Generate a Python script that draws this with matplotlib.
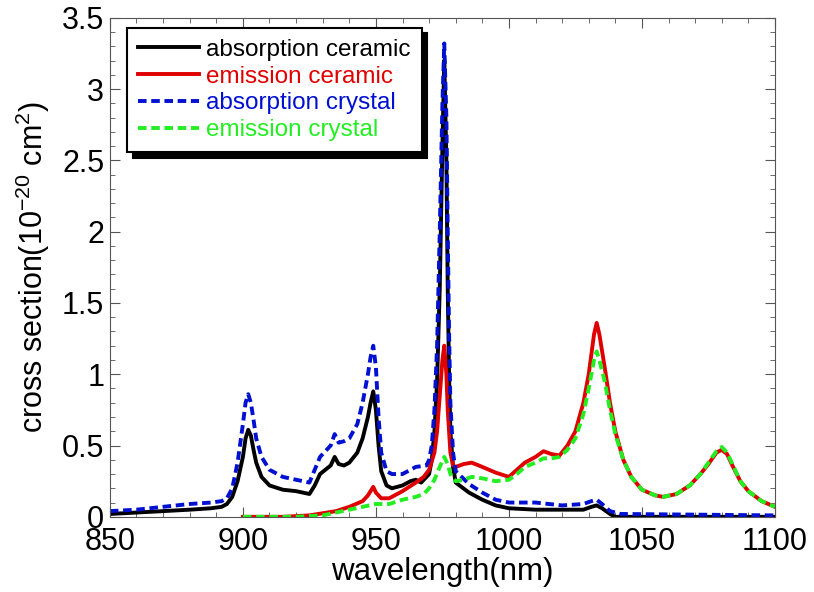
import matplotlib.pyplot as plt
from matplotlib.ticker import MultipleLocator

plt.rcParams['font.family'] = ['Liberation Sans', 'DejaVu Sans']
plt.rcParams['mathtext.fontset'] = 'custom'
plt.rcParams['mathtext.rm'] = 'Liberation Sans'

# absorption, ceramic
wl_abs_ceramic = [850, 860, 870, 880, 888, 892, 894, 896, 898, 900, 901, 902, 903, 904, 905, 907,
                  910, 915, 920, 925, 927, 929, 931, 933, 934.5, 936, 938, 940, 943, 945, 947,
                  948, 949, 950, 951, 952, 954, 956, 960, 963, 965, 967, 970, 971, 972, 973,
                  974, 975, 975.7, 976.5, 977, 977.5, 978, 979, 980, 985, 990, 995, 1000, 1010,
                  1020, 1028, 1031, 1033, 1035, 1038, 1040, 1100]
abs_ceramic = [0.02, 0.03, 0.04, 0.05, 0.06, 0.07, 0.09, 0.14, 0.25, 0.42, 0.55, 0.61, 0.57, 0.47,
               0.38, 0.28, 0.22, 0.19, 0.18, 0.16, 0.22, 0.3, 0.33, 0.36, 0.42, 0.37, 0.36, 0.38,
               0.45, 0.55, 0.7, 0.8, 0.88, 0.75, 0.5, 0.32, 0.22, 0.2, 0.22, 0.25, 0.26, 0.24,
               0.3, 0.4, 0.6, 0.95, 1.6, 2.6, 3.2, 2.5, 1.6, 1.0, 0.6, 0.35, 0.24, 0.17, 0.12,
               0.08, 0.06, 0.05, 0.05, 0.05, 0.07, 0.08, 0.06, 0.02, 0.0, 0.0]

# emission, ceramic
wl_em_ceramic = [900, 915, 925, 935, 940, 945, 947, 949, 950, 952, 955, 960, 965, 968, 970, 972,
                 973, 974, 975, 975.7, 976.5, 977, 978, 979, 980, 983, 986, 990, 995, 1000, 1003,
                 1006, 1010, 1013, 1016, 1019, 1022, 1025, 1028, 1030, 1032, 1033, 1034, 1036,
                 1038, 1040, 1043, 1046, 1050, 1055, 1058, 1063, 1068, 1072, 1075, 1078, 1080,
                 1082, 1084, 1087, 1090, 1095, 1100]
em_ceramic = [0.0, 0.0, 0.01, 0.04, 0.07, 0.11, 0.15, 0.21, 0.17, 0.13, 0.13, 0.18, 0.24, 0.28,
              0.33, 0.45, 0.6, 0.85, 1.1, 1.2, 1.0, 0.75, 0.45, 0.36, 0.35, 0.37, 0.38, 0.35,
              0.31, 0.28, 0.33, 0.38, 0.42, 0.46, 0.44, 0.43, 0.5, 0.6, 0.8, 1.0, 1.28, 1.36,
              1.28, 1.05, 0.8, 0.6, 0.4, 0.28, 0.19, 0.15, 0.14, 0.16, 0.22, 0.3, 0.37, 0.45,
              0.47, 0.44, 0.36, 0.25, 0.18, 0.11, 0.07]

# absorption, crystal
wl_abs_crystal = [850, 860, 870, 880, 888, 892, 894, 896, 898, 900, 901, 902, 903, 904, 905, 907,
                  910, 915, 920, 925, 927, 929, 931, 933, 934.5, 936, 938, 940, 943, 945, 947,
                  948, 949, 950, 951, 952, 954, 956, 960, 965, 969, 970, 971, 972, 973, 974, 975,
                  975.7, 976.5, 977, 977.5, 978, 979, 980, 985, 990, 995, 1000, 1010, 1020, 1028,
                  1031, 1033, 1035, 1038, 1042, 1100]
abs_crystal = [0.04, 0.05, 0.07, 0.09, 0.1, 0.11, 0.13, 0.2, 0.38, 0.65, 0.8, 0.86, 0.8, 0.68,
               0.55, 0.42, 0.33, 0.28, 0.26, 0.24, 0.33, 0.42, 0.46, 0.5, 0.58, 0.52, 0.53, 0.55,
               0.65, 0.8, 1.0, 1.12, 1.2, 1.05, 0.7, 0.45, 0.32, 0.3, 0.3, 0.35, 0.36, 0.4, 0.5,
               0.75, 1.2, 2.0, 2.9, 3.32, 2.8, 2.0, 1.3, 0.8, 0.45, 0.32, 0.23, 0.17, 0.12, 0.1,
               0.1, 0.08, 0.09, 0.11, 0.12, 0.09, 0.04, 0.02, 0.01]

# emission, crystal
wl_em_crystal = [900, 920, 930, 940, 945, 950, 955, 960, 965, 968, 970, 972, 974, 975.7, 977, 978,
                 979, 980, 983, 986, 990, 995, 1000, 1003, 1006, 1010, 1013, 1016, 1019, 1022,
                 1025, 1028, 1030, 1032, 1033, 1034, 1036, 1038, 1040, 1043, 1046, 1050, 1055,
                 1058, 1063, 1068, 1072, 1075, 1078, 1080, 1082, 1084, 1087, 1090, 1095, 1100]
em_crystal = [0.0, 0.0, 0.01, 0.05, 0.07, 0.09, 0.09, 0.12, 0.14, 0.16, 0.2, 0.26, 0.35, 0.42,
              0.37, 0.3, 0.27, 0.25, 0.26, 0.28, 0.27, 0.25, 0.26, 0.3, 0.35, 0.38, 0.41, 0.41,
              0.42, 0.47, 0.55, 0.72, 0.9, 1.1, 1.16, 1.1, 0.95, 0.75, 0.58, 0.4, 0.28, 0.19,
              0.15, 0.14, 0.16, 0.22, 0.3, 0.38, 0.46, 0.49, 0.45, 0.37, 0.25, 0.18, 0.11, 0.07]


def main():
    fig = plt.figure(figsize=(8.14, 5.92), dpi=100)
    ax = fig.add_axes([0.135, 0.127, 0.817, 0.843])

    ax.plot(wl_abs_ceramic, abs_ceramic, color='black', lw=2.8, label='absorption ceramic')
    ax.plot(wl_em_ceramic, em_ceramic, color='#e00000', lw=2.8, label='emission ceramic')
    ax.plot(wl_abs_crystal, abs_crystal, color='#0010d0', lw=2.8, ls=(0, (2.2, 1.2)),
            label='absorption crystal')
    ax.plot(wl_em_crystal, em_crystal, color='#22ee22', lw=2.8, ls=(0, (2.2, 1.2)),
            label='emission crystal')

    ax.set_xlim(850, 1100)
    ax.set_ylim(0, 3.5)
    ax.xaxis.set_major_locator(MultipleLocator(50))
    ax.xaxis.set_minor_locator(MultipleLocator(10))
    ax.yaxis.set_major_locator(MultipleLocator(0.5))
    ax.yaxis.set_minor_locator(MultipleLocator(0.1))
    ax.yaxis.set_major_formatter(plt.FuncFormatter(lambda v, p: f'{v:g}'))
    ax.tick_params(which='both', direction='in', top=True, right=True, color='#555555',
                   labelsize=22)
    ax.tick_params(axis='x', pad=7)
    ax.tick_params(axis='y', pad=4)
    ax.tick_params(which='major', length=7)
    ax.tick_params(which='minor', length=3.5)
    for s in ax.spines.values():
        s.set_color('#555555')

    ax.set_xlabel('wavelength(nm)', fontsize=22.5, labelpad=0)
    ax.set_ylabel('cross section(10$^{-20}$ cm$^{2}$)', fontsize=22, labelpad=7)

    leg = ax.legend(loc='upper left', fontsize=17.5, fancybox=False, handlelength=2.5,
                    handletextpad=0.3, labelspacing=0.2, borderpad=0.45, borderaxespad=0,
                    bbox_to_anchor=(0.026, 0.98),
                    shadow={'color': 'black', 'alpha': 1, 'ox': 4, 'oy': -4})
    leg.get_frame().set_edgecolor('black')
    leg.get_frame().set_linewidth(1.5)
    for txt, line in zip(leg.get_texts(), leg.get_lines()):
        txt.set_color(line.get_color())

    fig.savefig('out.png', dpi=100)


if __name__ == "__main__":
    main()
